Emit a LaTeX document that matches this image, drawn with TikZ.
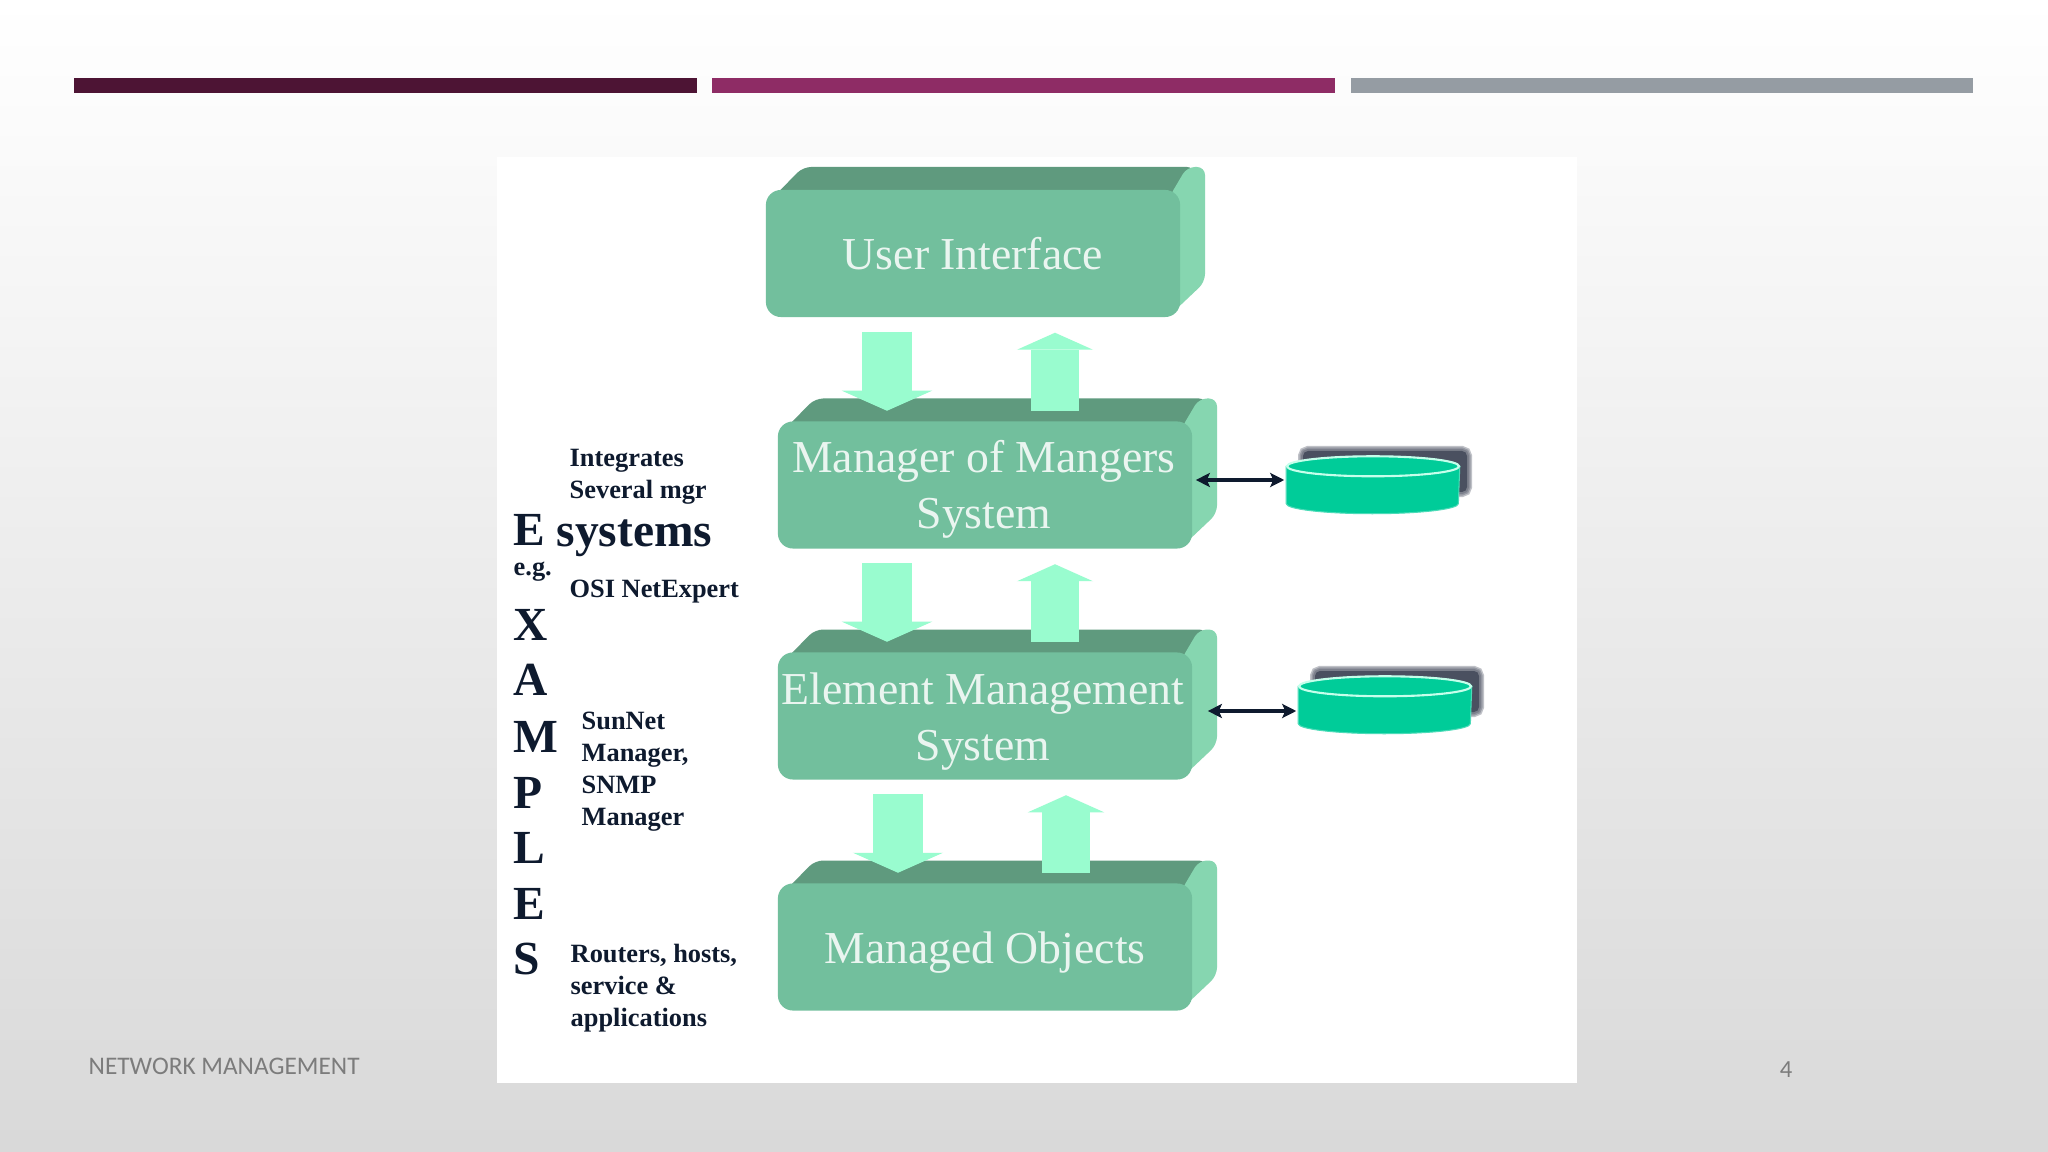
\documentclass[tikz,border=0pt]{standalone}
\usepackage{fontspec}
\setmainfont{Liberation Serif}
\newfontfamily\footfont{Carlito}
\usetikzlibrary{arrows.meta,calc}
\definecolor{barone}{HTML}{4D1434}
\definecolor{bartwo}{HTML}{8E2C65}
\definecolor{barthree}{HTML}{959CA3}
\definecolor{blockfront}{HTML}{72BF9D}
\definecolor{blocktop}{HTML}{5F9A7E}
\definecolor{blockside}{HTML}{86D6B0}
\definecolor{fatgreen}{HTML}{99FCCF}
\definecolor{dbgreen}{HTML}{00CC99}
\definecolor{dbrim}{HTML}{C5FFEB}
\definecolor{darkink}{HTML}{0E1A2E}
\definecolor{shadowgray}{HTML}{4A5060}
\definecolor{footgray}{HTML}{7C7C7C}
\tikzset{
    blockbox/.style={fill=blockfront, rounded corners=1.5mm, minimum width=4.14cm, minimum height=1.27cm, inner sep=0pt},
    blocktext/.style={inner sep=0pt, align=center, text=white!85!blockfront, font=\fontsize{13}{16}\selectfont},
    dbnode/.style={minimum width=1.72cm, minimum height=0.56cm, inner sep=0pt},
    fatdown/.style={draw=fatgreen, line width=5mm, -{Triangle[width=9mm,length=2mm,line width=0pt]}},
    fatup/.style={draw=fatgreen, line width=4.8mm, -{Triangle[width=7.6mm,length=1.7mm,line width=0pt]}},
    dblink/.style={draw=darkink, line width=1.1pt, {Stealth[length=1.4mm,width=1.4mm,inset=0.3mm]}-{Stealth[length=1.4mm,width=1.4mm,inset=0.3mm]}},
    smalltext/.style={text=darkink, anchor=west, align=left, inner sep=0pt, font=\fontsize{7.5}{9.1}\selectfont\bfseries},
    bigtext/.style={text=darkink, anchor=west, inner sep=0pt, font=\fontsize{13.5}{16}\selectfont\bfseries}
}
\begin{document}
\begin{tikzpicture}[x=0.01cm, y=-0.01cm]
    \useasboundingbox (0,0) rectangle (2048,1152);
    \shade[top color=white, bottom color=black!15] (0,0) rectangle (2048,1152);
    % three bars
    \fill[barone] (74,78) rectangle (697,93);
    \fill[bartwo] (712,78) rectangle (1335,93);
    \fill[barthree] (1351,78) rectangle (1973,93);
    \fill[white] (497,157) rectangle (1577,1083);
    % top and side of each block
    \foreach \bx/\by in {973/253.5, 985/485, 985/716, 985/947} {
        \fill[blocktop, rounded corners=0.8mm] (\bx-200,\by-56) -- (\bx-170,\by-86.5) -- (\bx+222,\by-86.5) -- (\bx+207,\by-55) -- cycle;
        \fill[blockside, rounded corners=0.8mm] (\bx+196,\by-56) -- (\bx+214,\by-86.5) -- (\bx+232,\by-86.5) -- (\bx+232,\by+28.5) -- (\bx+195,\by+63.5) -- cycle;
    }
    \node[blockbox] (ui) at (973,253.5) {};
    \node[blockbox] (mom) at (985,485) {};
    \node[blockbox] (em) at (985,716) {};
    \node[blockbox] (mo) at (985,947) {};
    \node[blocktext] (uitext) at ($(ui)+(0,0)$) {User Interface};
    \node[blocktext] (momtext) at ($(mom)+(-1,4.5)$) {Manager of Mangers\\System};
    \node[blocktext] (emtext) at ($(em)+(-2,5.7)$) {Element Management\\System};
    \node[blocktext] (motext) at ($(mo)+(0,6)$) {Managed Objects};
    % fat arrows
    \draw[fatdown] ($(ui.south)+(-86,14)$) -- ($(mom.north)+(-98,-10)$);
    \draw[fatup] ($(mom.north)+(70,-10)$) -- ($(ui.south)+(82,15)$);
    \draw[fatdown] ($(mom.south)+(-98,14)$) -- ($(em.north)+(-98,-10)$);
    \draw[fatup] ($(em.north)+(70,-10)$) -- ($(mom.south)+(70,15)$);
    \draw[fatdown] ($(em.south)+(-87,14)$) -- ($(mo.north)+(-87,-10)$);
    \draw[fatup] ($(mo.north)+(81,-10)$) -- ($(em.south)+(81,15)$);
    % blurred shadows behind the disks
    \foreach \sx/\sy in {0/0, 12/220} {
        \foreach \w in {1.0,0.7,0.4} {
            \draw[shadowgray, opacity=0.35, line width=\w mm, rounded corners=0.5mm] (1303+\sx,451+\sy) rectangle (1467+\sx,492+\sy);
        }
        \fill[shadowgray, rounded corners=0.5mm] (1303+\sx,451+\sy) rectangle (1467+\sx,492+\sy);
    }
    \node[dbnode] (db1) at (1373,485) {};
    \node[dbnode] (db2) at (1385,705) {};
    \foreach \db in {db1, db2} {
        \draw[dbgreen!70!white, fill=dbgreen, line width=0.3pt] ($(\db.north west)+(0,10)$) -- ($(\db.south west)+(0,-10)$) arc[start angle=180, end angle=360, x radius=0.86cm, y radius=0.1cm] -- ($(\db.north east)+(0,10)$) arc[start angle=0, end angle=180, x radius=0.86cm, y radius=0.1cm] -- cycle;
        \draw[dbrim, fill=dbgreen, line width=0.6pt] ($(\db.north)+(0,10)$) ellipse[x radius=0.86cm, y radius=0.1cm];
    }
    \draw[dblink] ($(mom.east)+(3,-5)$) -- ($(db1.west)+(-2,-5)$);
    \draw[dblink] ($(em.east)+(15,-5)$) -- ($(db2.west)+(-2,6)$);
    % the word down the left side
    \foreach \letter/\ly [count=\i] in {E/530, X/625, A/680, M/737, P/793, L/848, E/904, S/959} {
        \node[bigtext] (letter\i) at (513,\ly) {\letter};
    }
    \node[bigtext] (systems) at (556,538) {systems};
    \node[smalltext] (eg) at (513,572) {e.g.};
    \node[smalltext] (integrates) at (569,477) {Integrates\\Several mgr};
    \node[smalltext] (osi) at (569,592) {OSI NetExpert};
    \node[smalltext] (sunnet) at (581,772) {SunNet\\Manager,\\SNMP\\Manager};
    \node[smalltext] (routers) at (570,988) {Routers, hosts,\\service \&\\applications};
    % footer
    \node[text=footgray, anchor=west, inner sep=0pt, font=\footfont\fontsize{7.2}{9}\selectfont] (foot) at (88,1066) {NETWORK MANAGEMENT};
    \node[text=footgray, inner sep=0pt, font=\footfont\fontsize{7}{9}\selectfont] (pagenum) at (1786,1070) {4};
\end{tikzpicture}
\end{document}
